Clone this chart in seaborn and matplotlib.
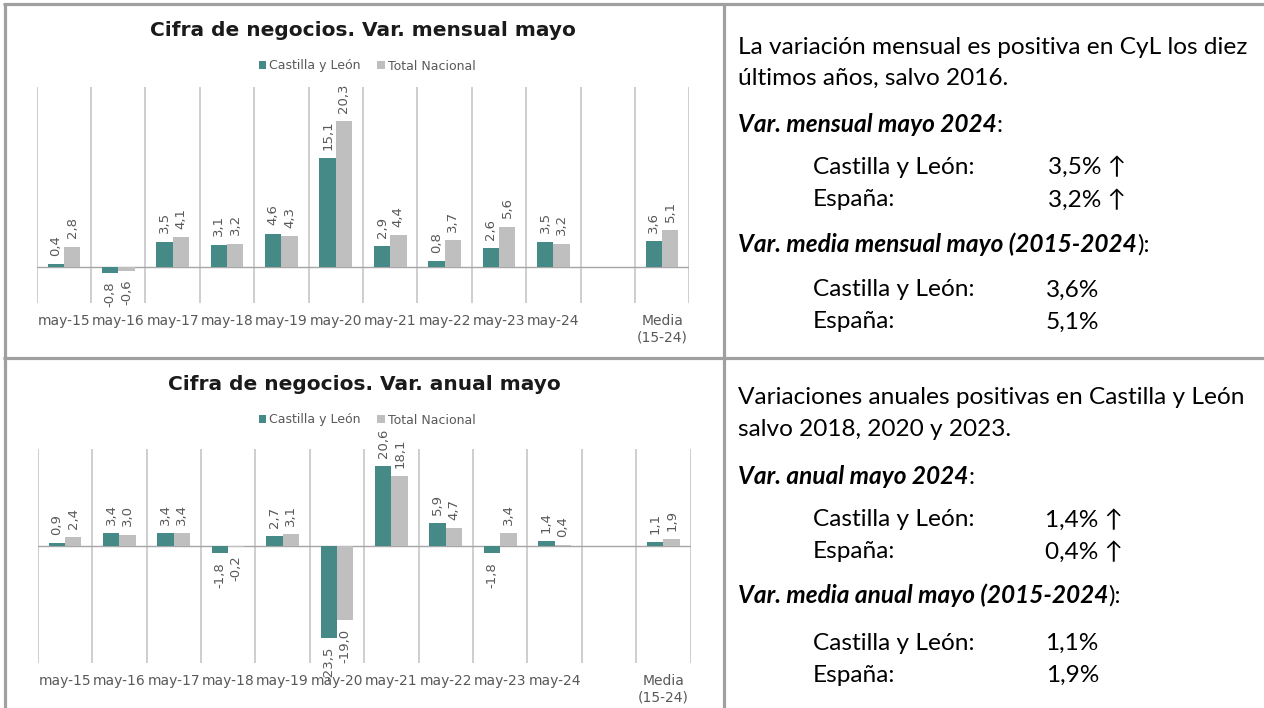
import matplotlib
matplotlib.use("Agg")  # headless rendering
import matplotlib.pyplot as plt
import numpy as np
import pandas as pd
import seaborn as sns

# ── data ────────────────────────────────────────────────────────────────
periods = ["may-15", "may-16", "may-17", "may-18", "may-19",
           "may-20", "may-21", "may-22", "may-23", "may-24", "Media\n(15-24)"]
# empty slot between may-24 and the average
order = periods[:10] + [" "] + periods[10:]
series = ["Castilla y León", "Total Nacional"]

mensual_cyl = [0.4, -0.8, 3.5, 3.1, 4.6, 15.1, 2.9, 0.8, 2.6, 3.5, 3.6]
mensual_nac = [2.8, -0.6, 4.1, 3.2, 4.3, 20.3, 4.4, 3.7, 5.6, 3.2, 5.1]
anual_cyl = [0.9, 3.4, 3.4, -1.8, 2.7, -23.5, 20.6, 5.9, -1.8, 1.4, 1.1]
anual_nac = [2.4, 3.0, 3.4, -0.2, 3.1, -19.0, 18.1, 4.7, 3.4, 0.4, 1.9]

TEAL = "#468A87"
GRAY = "#BFBFBF"
TXT = "#595959"
BORDER = "#A0A0A0"
W, H = 1264, 708

sns.set_theme(style="white")
plt.rcParams["font.family"] = ["Lato", "DejaVu Sans"]
CHART_FONT = "DejaVu Sans"


def fmt(v):
    return f"{v:.1f}".replace(".", ",")


def px_axes(fig, x0, y0, x1, y1):
    return fig.add_axes([x0 / W, 1 - y1 / H, (x1 - x0) / W, (y1 - y0) / H])


def draw_chart(fig, box, cyl, nac, ylim, title, title_y, legend_y):
    ax = px_axes(fig, *box)
    df = pd.DataFrame({
        "periodo": periods * 2,
        "valor": cyl + nac,
        "serie": [series[0]] * len(cyl) + [series[1]] * len(nac),
    })
    sns.barplot(data=df, x="periodo", y="valor", hue="serie", order=order,
                hue_order=series, palette=[TEAL, GRAY], width=0.6,
                saturation=1, errorbar=None, ax=ax, zorder=3,
                edgecolor="none", linewidth=0)

    for c in ax.containers:
        ax.bar_label(c, labels=[fmt(b.get_height()) for b in c], rotation=90,
                     padding=6, fontsize=9.5, color=TXT, family=CHART_FONT)

    ax.set_xlim(-0.5, len(order) - 0.5)
    ax.set_ylim(*ylim)
    ax.set_xticks(np.arange(-0.5, len(order), 1), minor=True)
    ax.grid(False)
    ax.grid(which="minor", axis="x", color="#CACACA", lw=1.3)
    ax.axhline(0, color="#A6A6A6", lw=1, zorder=2)
    ax.set_yticks([])
    ax.set_xlabel("")
    ax.set_ylabel("")
    ax.tick_params(axis="x", which="both", length=0, pad=8)
    for lab in ax.get_xticklabels():
        lab.set_fontsize(10)
        lab.set_color(TXT)
        lab.set_family(CHART_FONT)
        lab.set_multialignment("center")
    sns.despine(ax=ax, left=True, bottom=True)

    cx = (box[0] + box[2]) / 2
    fig.text(cx / W, 1 - title_y / H, title, ha="center", va="center",
             fontsize=14.5, fontweight="bold", color="#1A1A1A", family=CHART_FONT)
    ax.legend(loc="center", bbox_to_anchor=(367 / W, 1 - legend_y / H),
              bbox_transform=fig.transFigure, ncol=2, frameon=False,
              handlelength=0.6, handleheight=0.6, handletextpad=0.25,
              columnspacing=1.3, prop={"family": CHART_FONT, "size": 9},
              labelcolor=TXT)
    return ax


fig = plt.figure(figsize=(W / 100, H / 100), dpi=100)

draw_chart(fig, (36.7, 87.3, 689.3, 302.7), mensual_cyl, mensual_nac, (-5, 25),
           "Cifra de negocios. Var. mensual mayo", 30, 66)
draw_chart(fig, (37.7, 449, 690.7, 663.3), anual_cyl, anual_nac, (-30, 25),
           "Cifra de negocios. Var. anual mayo", 385, 420)

# ── frame and commentary panels (pixel coordinates) ──────────────────────
tax = fig.add_axes([0, 0, 1, 1], zorder=-1)
tax.set_xlim(0, W)
tax.set_ylim(H, 0)
tax.axis("off")

for xs, ys in [((3, W), (4, 4)), ((5, 5), (3, H)), ((723.5, 723.5), (3, H)),
               ((3, W), (358, 358))]:
    tax.plot(xs, ys, color=BORDER, lw=2.3, solid_capstyle="butt")

FS = 17.6


def line(x, y, s, **kw):
    return tax.text(x, y, s, ha="left", va="center", fontsize=FS, color="black", **kw)


def heading(x, y, bold, tail):
    t = line(x, y, bold, fontweight="bold", fontstyle="italic")
    tax.annotate(tail, xy=(1, 0), xycoords=t, ha="left", va="bottom",
                 fontsize=FS, color="black")


ARROW = " \u2191"
XL, XI, XV = 738, 813, 1048

line(XL, 47, "La variación mensual es positiva en CyL los diez")
line(XL, 78, "últimos años, salvo 2016.")
heading(XL, 125, "Var. mensual mayo 2024", ":")
line(XI, 167, "Castilla y León:")
line(XV, 167, fmt(mensual_cyl[9]) + "%" + ARROW)
line(XI, 200, "España:")
line(XV, 200, fmt(mensual_nac[9]) + "%" + ARROW)
heading(XL, 244, "Var. media mensual mayo (2015-2024", "):")
line(XI, 290, "Castilla y León:")
line(XV - 2, 290, fmt(mensual_cyl[10]) + "%")
line(XI, 322, "España:")
line(XV - 2, 322, fmt(mensual_nac[10]) + "%")

line(XL, 397, "Variaciones anuales positivas en Castilla y León")
line(XL, 430, "salvo 2018, 2020 y 2023.")
heading(XL, 477, "Var. anual mayo 2024", ":")
line(XI, 520, "Castilla y León:")
line(XV - 3, 520, fmt(anual_cyl[9]) + "%" + ARROW)
line(XI, 552, "España:")
line(XV - 3, 552, fmt(anual_nac[9]) + "%" + ARROW)
heading(XL, 595, "Var. media anual mayo (2015-2024", "):")
line(XI, 643, "Castilla y León:")
line(XV - 3, 643, fmt(anual_cyl[10]) + "%")
line(XI, 675, "España:")
line(XV - 2, 675, fmt(anual_nac[10]) + "%")

fig.savefig("out.png", dpi=100)
plt.close(fig)
